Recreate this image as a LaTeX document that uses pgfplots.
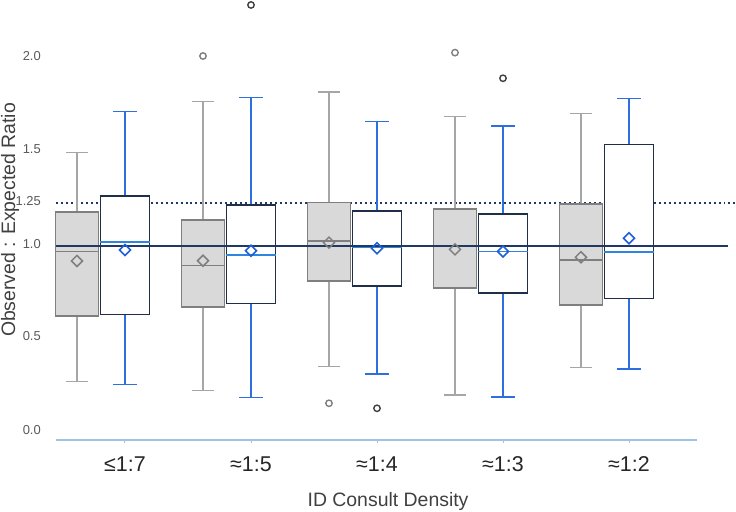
\documentclass[border=0pt]{standalone}
\usepackage{pgfplots}
\pgfplotsset{compat=1.18}
\usepgfplotslibrary{statistics}
\usepackage{fontspec}
\setmainfont{Liberation Sans}
\definecolor{grayfill}{HTML}{D9D9D9}
\definecolor{grayedge}{HTML}{7F7F7F}
\definecolor{graywhisk}{HTML}{A6A6A6}
\definecolor{boxedge}{HTML}{1F2F48}
\definecolor{bluemed}{HTML}{2E86DE}
\definecolor{bluewhisk}{HTML}{2E6FE0}
\definecolor{bluemean}{HTML}{1F5FD8}
\definecolor{navy}{HTML}{1F3864}
\definecolor{axisblue}{HTML}{9DC3E6}
\definecolor{txt}{HTML}{404040}
\definecolor{ticktxt}{HTML}{595959}

\pgfplotsset{
  graybox/.style={
    draw=grayedge, fill=grayfill, line width=1.7pt, solid,
    boxplot/draw direction=y,
    boxplot/box extend=0.341,
    boxplot/whisker extend=0.167,
    boxplot/every whisker/.style={draw=graywhisk, line width=1.5pt},
    boxplot/every median/.style={draw=grayedge, line width=1.5pt},
    boxplot/every box/.style={draw=grayedge, fill=grayfill, line width=1.7pt},
  },
  whitebox/.style={
    draw=boxedge, fill=white, line width=1.7pt, solid,
    boxplot/draw direction=y,
    boxplot/box extend=0.389,
    boxplot/whisker extend=0.19,
    boxplot/every whisker/.style={draw=bluewhisk, line width=1.5pt},
    boxplot/every median/.style={draw=bluemed, line width=1.6pt},
    boxplot/every box/.style={draw=boxedge, fill=white, line width=1.7pt},
  },
}

\begin{document}
\begin{tikzpicture}
\begin{axis}[
  scale only axis,
  width=641bp, height=440bp,
  xmin=0.4524, xmax=5.5397,
  ymin=-0.0535, ymax=2.2995,
  clip=false,
  boxplot/draw direction=y,
  axis x line*=bottom,
  axis y line*=left,
  y axis line style={draw=none},
  x axis line style={draw=axisblue, line width=1.2pt},
  xtick={1,2,3,4,5},
  xticklabels={≤1:7,≈1:5,≈1:4,≈1:3,≈1:2},
  xtick style={draw=axisblue, line width=1pt},
  major tick length=3bp,
  tick align=outside,
  xticklabel style={font=\fontsize{21.5}{21.5}\selectfont, text=black!85, anchor=base, yshift=-28bp, inner sep=0pt},
  ytick={0,0.5,0.995,1.222,1.5,2.0},
  yticklabels={0.0,0.5,1.0,1.25,1.5,2.0},
  ytick style={draw=none},
  yticklabel style={font=\fontsize{13}{13}\selectfont, text=ticktxt, anchor=east, inner sep=0pt, xshift=-12bp},
  xlabel={ID Consult Density},
  xlabel style={font=\fontsize{19.5}{19.5}\selectfont, text=txt, at={(axis description cs:0.518,-0.1395)}, anchor=center},
  ylabel={Observed : Expected Ratio},
  ylabel style={font=\fontsize{19.5}{19.5}\selectfont, text=txt, at={(axis description cs:-0.0718,0.5)}, anchor=center},
]
\coordinate (bl) at (rel axis cs:0,0);
\coordinate (tr) at (rel axis cs:1,1);

% reference line at 1.25
\addplot[navy, line width=1.8pt, dash pattern=on 2pt off 3pt] coordinates {(0.4524,1.215) (5.849,1.215)};

% category 1
\addplot[graybox, boxplot prepared={draw position=0.619, lower whisker=0.258, lower quartile=0.611, median=0.955, upper quartile=1.164, upper whisker=1.485}] coordinates {};
\addplot[whitebox, boxplot prepared={draw position=1, lower whisker=0.244, lower quartile=0.617, median=1.004, upper quartile=1.253, upper whisker=1.704}] coordinates {};
% category 2
\addplot[graybox, boxplot prepared={draw position=1.619, lower whisker=0.212, lower quartile=0.659, median=0.881, upper quartile=1.123, upper whisker=1.756}] coordinates {};
\addplot[whitebox, boxplot prepared={draw position=2, lower whisker=0.173, lower quartile=0.677, median=0.936, upper quartile=1.203, upper whisker=1.777}] coordinates {};
% category 3
\addplot[graybox, boxplot prepared={draw position=2.619, lower whisker=0.339, lower quartile=0.798, median=1.011, upper quartile=1.217, upper whisker=1.807}] coordinates {};
\addplot[whitebox, boxplot prepared={draw position=3, lower whisker=0.299, lower quartile=0.770, median=0.975, upper quartile=1.171, upper whisker=1.651}] coordinates {};
% category 4
\addplot[graybox, boxplot prepared={draw position=3.619, lower whisker=0.186, lower quartile=0.758, median=0.985, upper quartile=1.182, upper whisker=1.677}] coordinates {};
\addplot[whitebox, boxplot prepared={draw position=4, lower whisker=0.176, lower quartile=0.731, median=0.955, upper quartile=1.155, upper whisker=1.626}] coordinates {};
% category 5
\addplot[graybox, boxplot prepared={draw position=4.619, lower whisker=0.335, lower quartile=0.668, median=0.909, upper quartile=1.209, upper whisker=1.693}] coordinates {};
\addplot[whitebox, boxplot prepared={draw position=5, lower whisker=0.325, lower quartile=0.704, median=0.952, upper quartile=1.526, upper whisker=1.772}] coordinates {};

% solid reference line at 1.0
\addplot[navy, line width=2pt] coordinates {(0.4524,0.986) (5.786,0.986)};

% means
\addplot[only marks, mark=square, mark size=3.9bp, mark options={rotate=45, draw=grayedge, fill=none, line width=1.5pt}]
  coordinates {(0.619,0.904) (1.619,0.905) (2.619,1.002) (3.619,0.966) (4.619,0.924)};
\addplot[only marks, mark=square, mark size=3.9bp, mark options={rotate=45, draw=bluemean, fill=white, line width=1.6pt}]
  coordinates {(1,0.963) (2,0.959) (3,0.972) (4,0.955) (5,1.025)};

% outliers
\addplot[only marks, mark=o, mark size=3.2bp, mark options={draw=grayedge, line width=1.4pt}]
  coordinates {(1.619,2.0) (2.619,0.143) (3.619,2.018)};
\addplot[only marks, mark=o, mark size=3.2bp, mark options={draw=black!75, line width=1.4pt}]
  coordinates {(2,2.273) (3,0.116) (4,1.881)};
\end{axis}
\pgfresetboundingbox
\path ([shift={(-56bp,-72bp)}]bl) rectangle ([shift={(39bp,0bp)}]tr);
\end{tikzpicture}
\end{document}
